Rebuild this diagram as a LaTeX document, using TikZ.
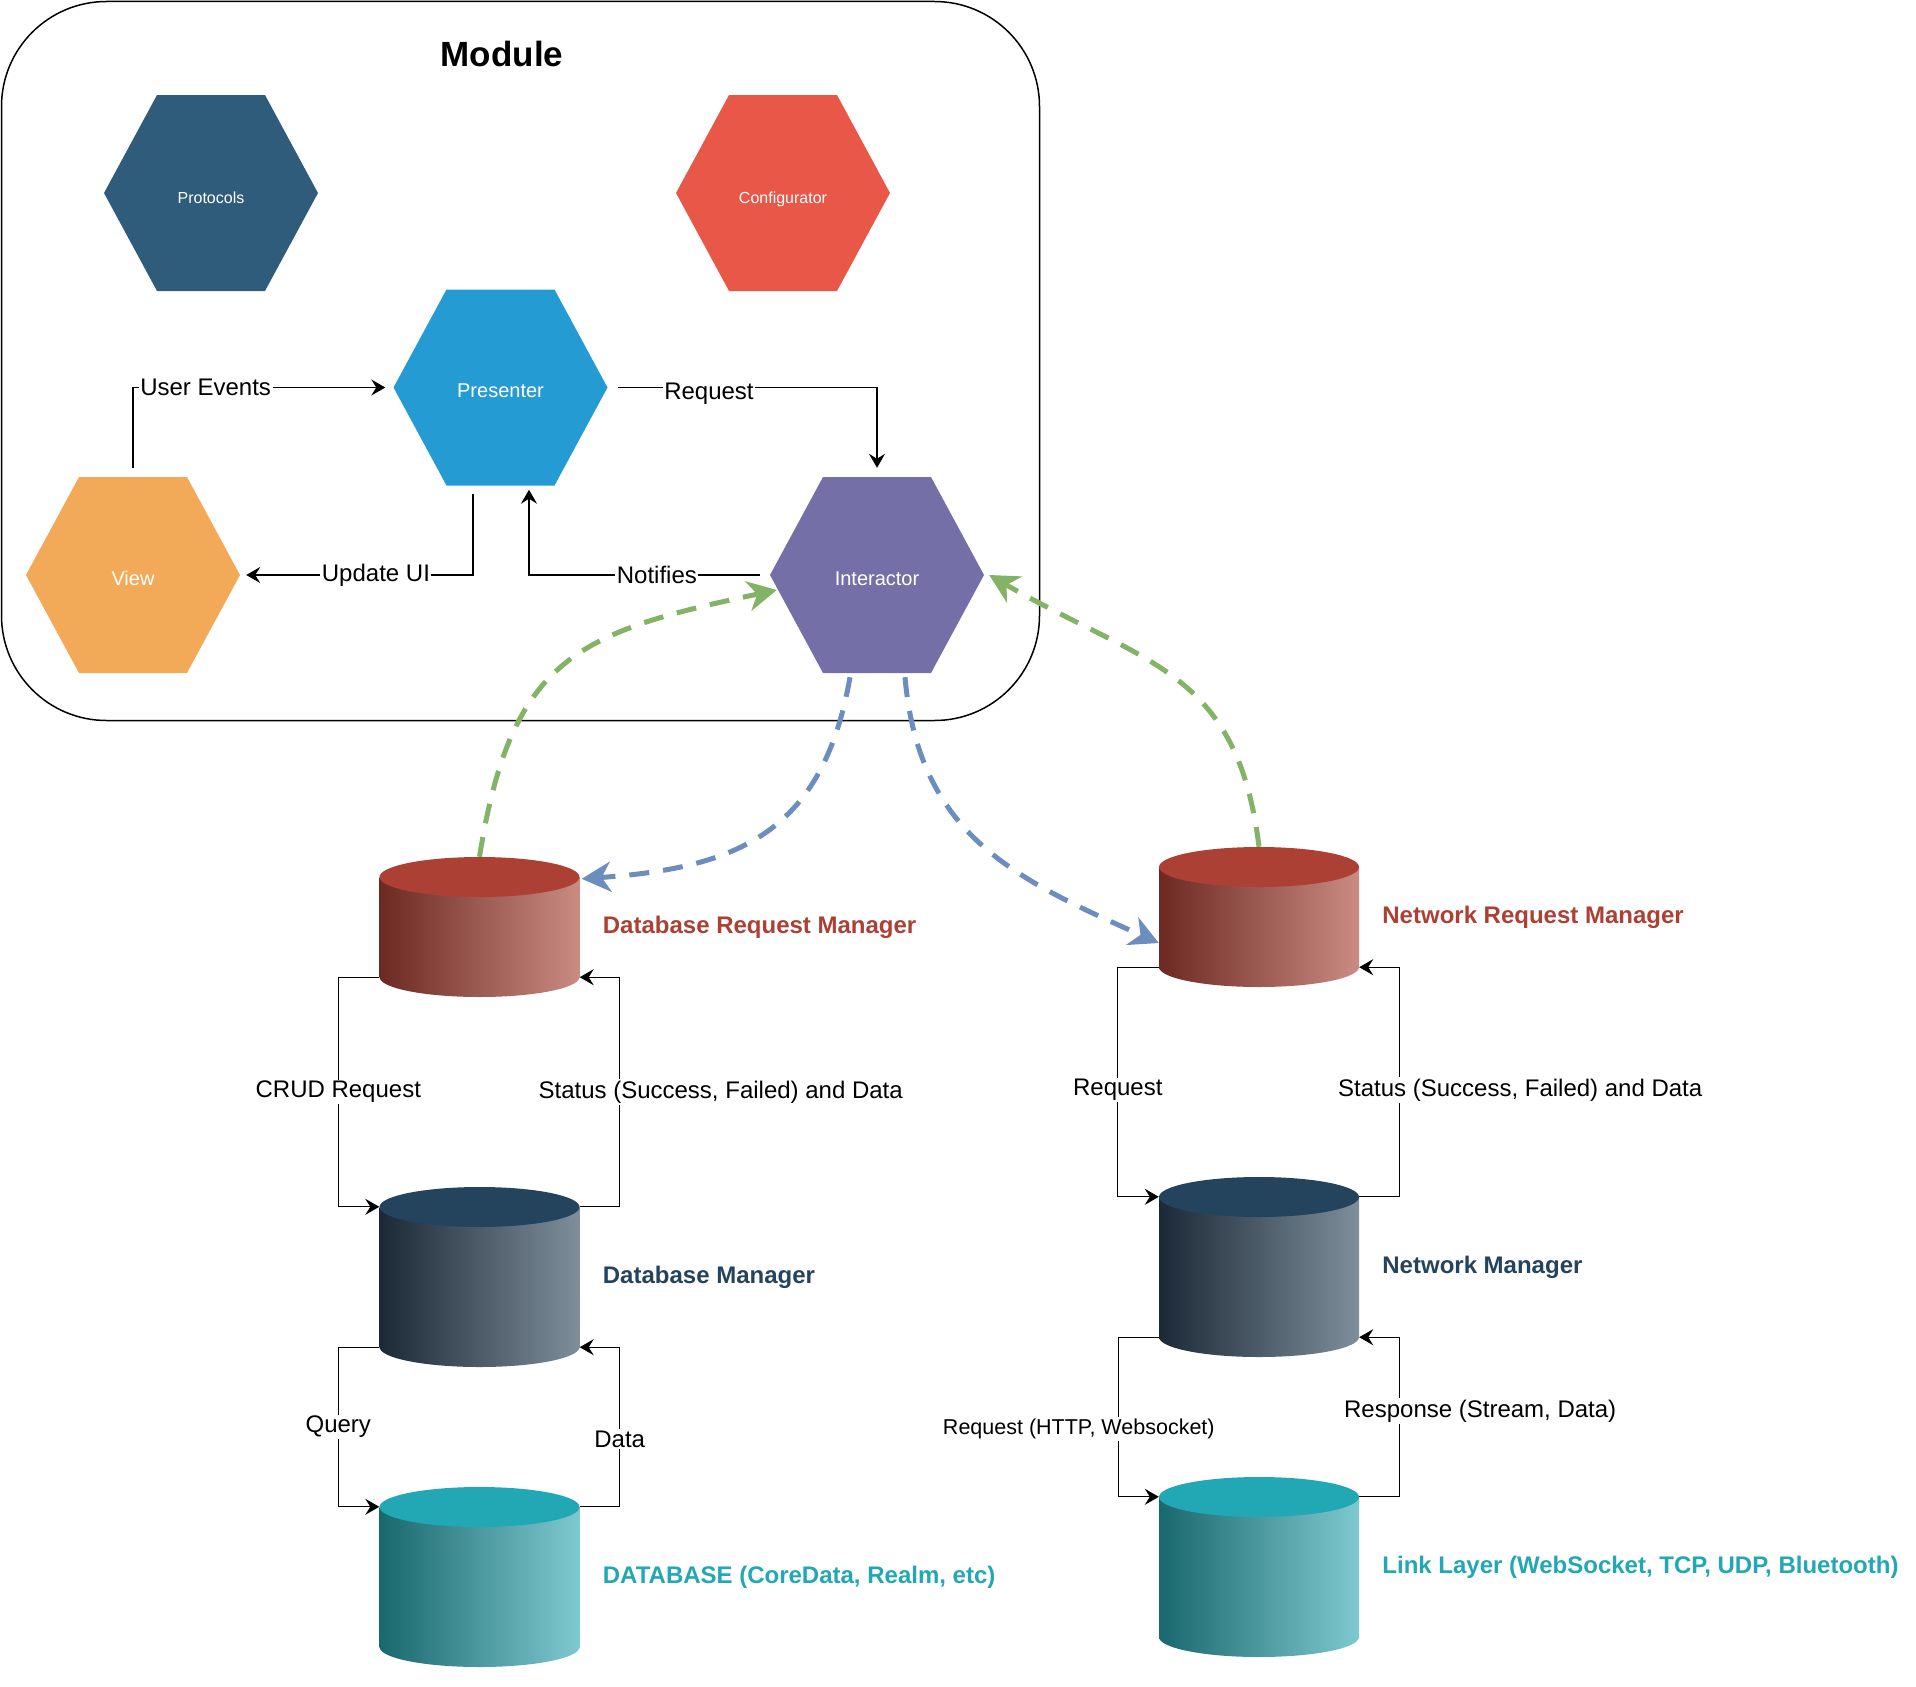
\documentclass[tikz,border=0pt]{standalone}
\usepackage{fontspec}
\setmainfont{Liberation Sans}
\usetikzlibrary{positioning,calc,arrows.meta}

\definecolor{protocolsfill}{RGB}{48,92,124}
\definecolor{configfill}{RGB}{232,87,72}
\definecolor{presenterfill}{RGB}{36,155,210}
\definecolor{viewfill}{RGB}{242,170,88}
\definecolor{interactorfill}{RGB}{116,111,166}
\definecolor{reqtop}{RGB}{172,64,52}
\definecolor{reqdark}{RGB}{108,41,34}
\definecolor{reqlight}{RGB}{202,139,130}
\definecolor{mgrtop}{RGB}{36,67,92}
\definecolor{mgrdark}{RGB}{27,41,55}
\definecolor{mgrlight}{RGB}{127,142,155}
\definecolor{storetop}{RGB}{33,168,180}
\definecolor{storedark}{RGB}{25,104,110}
\definecolor{storelight}{RGB}{126,201,207}
\definecolor{backgreen}{RGB}{130,179,102}
\definecolor{callblue}{RGB}{108,142,191}

\def\cylw{100}
\def\cylry{20}
\newcommand{\dbcyl}[5]{
    \shade[left color=#5dark, right color=#5light] (#2-\cylw,#3+\cylry) rectangle (#2+\cylw,#3+#4-\cylry);
    \shade[left color=#5dark, right color=#5light] (#2,#3+#4-\cylry) ellipse [x radius=\cylw pt, y radius=\cylry pt];
    \fill[#5top] (#2,#3+\cylry) ellipse [x radius=\cylw pt, y radius=\cylry pt];
    \node[minimum width=200pt, minimum height={(#4-2*\cylry)*1pt}, inner sep=0pt] (#1) at (#2,#3+#4/2) {};
}

\tikzset{
    hexa/.style={minimum width=214pt, minimum height=196pt, inner sep=0pt, text=white,
        text height=20pt, text depth=0pt, font=\fontsize{20}{24}\selectfont,
        path picture={\fill[#1] (path picture bounding box.west)
            -- ([xshift=53pt]path picture bounding box.north west)
            -- ([xshift=-53pt]path picture bounding box.north east)
            -- (path picture bounding box.east)
            -- ([xshift=-53pt]path picture bounding box.south east)
            -- ([xshift=53pt]path picture bounding box.south west) -- cycle;}},
    flow/.style={line width=1.3pt, -{Stealth[length=14pt, width=16pt, inset=5pt]}},
    elabel/.style={fill=white, inner sep=1.5pt, font=\fontsize{24}{28}\selectfont},
    cyllabel/.style={font=\fontsize{24}{28}\selectfont\bfseries, inner sep=0pt},
    callback/.style={backgreen, line width=5pt, dash pattern=on 20pt off 14pt,
        -{Stealth[length=29pt, width=30pt, inset=9pt]}},
    call/.style={callback, callblue},
}

\begin{document}
\begin{tikzpicture}[x=1pt, y=-1pt]
    \useasboundingbox (0,0) rectangle (1916,1686);

    \node[draw, line width=1.5pt, rounded corners=105pt, minimum width=1038pt, minimum height=719pt] (module) at (520.5,361) {};
    \node[font=\fontsize{35}{42}\selectfont\bfseries] (moduletitle) at (502,54) {Module};

    \node[hexa=protocolsfill, font=\fontsize{16}{19}\selectfont] (protocols) at (211,193) {Protocols};
    \node[hexa=configfill, font=\fontsize{16}{19}\selectfont] (configurator) at (783,193) {Configurator};
    \node[hexa=presenterfill] (presenter) at (500.5,387.5) {Presenter};
    \node[hexa=viewfill] (view) at (133,575) {View};
    \node[hexa=interactorfill] (interactor) at (877,575) {Interactor};

    \draw[flow] ($(view.north)+(0,-9)$) |- node[elabel, pos=0.644] {User Events} ($(presenter.west)+(-8,0)$);
    \draw[flow] ($(presenter.east)+(10,0)$) -| node[elabel, pos=0.176, yshift=-6pt] {Request} ($(interactor.north)+(0,-9)$);
    \draw[flow] ($(presenter.south)+(-27.5,8)$) |- node[elabel, pos=0.714] {Update UI} ($(view.east)+(6,0)$);
    \draw[flow] ($(interactor.west)+(-10,0)$) -| node[elabel, pos=0.223] {Notifies} ($(presenter.south)+(28.5,4)$);

    \dbcyl{dbreq}{479.5}{857}{140}{req}
    \dbcyl{dbmgr}{479.5}{1187}{180}{mgr}
    \dbcyl{dbstore}{479.5}{1487}{180}{store}
    \dbcyl{netreq}{1259}{847}{140}{req}
    \dbcyl{netmgr}{1259}{1177}{180}{mgr}
    \dbcyl{link}{1259}{1477}{180}{store}

    \node[cyllabel, text=reqtop, anchor=west, right=23pt of dbreq] (dbreqname) {Database Request Manager};
    \node[cyllabel, text=mgrtop, anchor=west, right=23pt of dbmgr] (dbmgrname) {Database Manager};
    \node[cyllabel, text=storetop, anchor=west, right=23pt of dbstore] (dbstorename) {DATABASE (CoreData, Realm, etc)};
    \node[cyllabel, text=reqtop, anchor=west, right=23pt of netreq] (netreqname) {Network Request Manager};
    \node[cyllabel, text=mgrtop, anchor=west, right=23pt of netmgr] (netmgrname) {Network Manager};
    \node[cyllabel, text=storetop, anchor=west, right=23pt of link] (linkname) {Link Layer (WebSocket, TCP, UDP, Bluetooth)};

    \draw[flow] (dbreq.south west) -- ++(-41,0) |- node[elabel, pos=0.25] {CRUD Request} (dbmgr.north west);
    \draw[flow] (dbmgr.north east) -- ++(40,0) |- node[elabel, pos=0.25, xshift=101pt] {Status (Success, Failed) and Data} (dbreq.south east);
    \draw[flow] (dbmgr.south west) -- ++(-41,0) |- node[elabel, pos=0.25] {Query} (dbstore.north west);
    \draw[flow] (dbstore.north east) -- ++(40,0) |- node[elabel, pos=0.25, yshift=-12pt] {Data} (dbmgr.south east);
    \draw[flow] (netreq.south west) -- ++(-41,0) |- node[elabel, pos=0.25, yshift=-8pt] {Request} (netmgr.north west);
    \draw[flow] (netmgr.north east) -- ++(40,0) |- node[elabel, pos=0.25, xshift=121pt, yshift=-8pt] {Status (Success, Failed) and Data} (netreq.south east);
    \draw[flow] (netmgr.south west) -- ++(-40,0) |- node[elabel, pos=0.25, xshift=-40pt, yshift=-12pt, font=\fontsize{21.5}{26}\selectfont] {Request (HTTP, Websocket)} (link.north west);
    \draw[flow] (link.north east) -- ++(40,0) |- node[elabel, pos=0.25, xshift=81pt, yshift=6pt] {Response (Stream, Data)} (netmgr.south east);

    \draw[callback] ($(dbreq.north)+(0,-20)$) to[out=81, in=192, looseness=1.3] ($(interactor.west)+(7,15)$);
    \draw[call] ($(interactor.south)+(-27,4)$) to[out=260, in=4, looseness=1.2] ($(dbreq.north east)+(2,2)$);
    \draw[call] ($(interactor.south)+(28,4)$) to[out=275, in=156, looseness=1.1] ($(netreq.west)+(0,26)$);
    \draw[callback] ($(netreq.north)+(0,-20)$) to[out=97, in=-30, looseness=1.2] ($(interactor.east)+(5,0)$);
\end{tikzpicture}
\end{document}
